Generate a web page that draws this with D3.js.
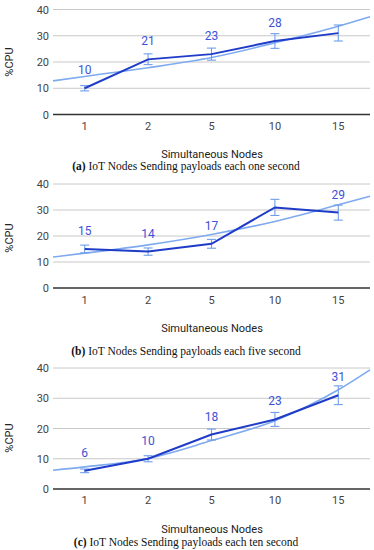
<!DOCTYPE html>
<html>
<head>
<meta charset="utf-8">
<script src="https://cdn.jsdelivr.net/npm/d3@7"></script>
<style>
  body { margin: 0; background: #fff; }
  svg { display: block; }
</style>
</head>
<body>
<div class="chart"></div>
<script>
var width = 374;
var height = 550;

// data
var nodes = ['1', '2', '5', '10', '15'];
var yTicks = [0, 10, 20, 30, 40];

var cpuA = [10, 21, 23, 28, 31];
var lowA = [9, 19, 20.7, 25.2, 28];
var highA = [11, 23.1, 25.3, 30.8, 34.1];
var trendA = [12.8, 14.5, 17.8, 21.7, 27.3, 33.6, 37.2];   // left edge, 5 categories, right edge
var labelsA = ['10', '21', '23', '28', ''];

var cpuB = [15, 14, 17, 31, 29];
var lowB = [13.5, 12.6, 15.3, 27.9, 26.1];
var highB = [16.5, 15.4, 18.7, 34.1, 31.9];
var trendB = [11.9, 13.4, 16.6, 20.6, 25.6, 32, 35.3];
var labelsB = ['15', '14', '17', '', '29'];

var cpuC = [6, 10, 18, 23, 31];
var lowC = [5.4, 9, 16.2, 20.7, 27.9];
var highC = [6.6, 11, 19.8, 25.3, 34.1];
var trendC = [6.2, 7.3, 10.1, 16, 22.6, 32.8, 39.4];
var labelsC = ['6', '10', '18', '23', '31'];

var captions = [
  ['(a)', ' IoT Nodes Sending payloads each one second'],
  ['(b)', ' IoT Nodes Sending payloads each five second'],
  ['(c)', ' IoT Nodes Sending payloads each ten second']
];

// layout of each panel (pixel positions)
var panels = [
  {cpu: cpuA, low: lowA, high: highA, trend: trendA, labels: labelsA, cap: captions[0],
   top: 9.5, bottom: 114.5, tickY: 130, titleY: 158, capY: 170, yTitle: 62},
  {cpu: cpuB, low: lowB, high: highB, trend: trendB, labels: labelsB, cap: captions[1],
   top: 184, bottom: 288, tickY: 304, titleY: 332, capY: 355, yTitle: 238},
  {cpu: cpuC, low: lowC, high: highC, trend: trendC, labels: labelsC, cap: captions[2],
   top: 368, bottom: 489, tickY: 504, titleY: 533, capY: 546, yTitle: 438}
];

var left = 53, right = 370;

var svg = d3.select('div.chart').append('svg')
  .attr('width', width)
  .attr('height', height);

var x_scale = d3.scaleBand()
  .domain(nodes)
  .range([left, right]);

panels.forEach(function(p) {
  var g = svg.append('g');
  var y_scale = d3.scaleLinear()
    .domain([0, 40])
    .range([p.bottom, p.top]);

  // grid
  g.append('g')
    .selectAll('line')
    .data(yTicks)
    .enter()
    .append('line')
    .attr('x1', left)
    .attr('x2', right)
    .attr('y1', function(d) { return y_scale(d); })
    .attr('y2', function(d) { return y_scale(d); })
    .attr('stroke', function(d) { return d == 0 ? '#333' : '#c8c8c8'; })
    .attr('stroke-width', function(d) { return d == 0 ? 1.5 : 1; });

  // y axis labels
  var y_axis = d3.axisLeft(y_scale).tickValues(yTicks).tickSize(0).tickPadding(4);
  var ya = g.append('g')
    .attr('transform', 'translate(' + left + ',0)')
    .call(y_axis);
  ya.select('.domain').remove();
  ya.selectAll('text')
    .style('font-family', 'Roboto')
    .style('font-size', '11px')
    .attr('fill', '#444');

  // x axis labels
  g.append('g')
    .selectAll('text')
    .data(nodes)
    .enter()
    .append('text')
    .attr('x', function(d) { return x_scale(d) + x_scale.bandwidth() / 2; })
    .attr('y', p.tickY)
    .attr('text-anchor', 'middle')
    .style('font-family', 'Roboto')
    .style('font-size', '11px')
    .attr('fill', '#444')
    .text(function(d) { return d; });

  // axis titles
  g.append('text')
    .attr('transform', 'translate(13,' + p.yTitle + ') rotate(-90)')
    .attr('text-anchor', 'middle')
    .style('font-family', 'Roboto')
    .style('font-size', '11px')
    .attr('fill', '#222')
    .text('%CPU');
  g.append('text')
    .attr('x', 212)
    .attr('y', p.titleY)
    .attr('text-anchor', 'middle')
    .style('font-family', 'Roboto')
    .style('font-size', '11px')
    .attr('fill', '#222')
    .text('Simultaneous Nodes');

  // trend line (edges + category centres)
  var trendX = [left].concat(nodes.map(function(d) { return x_scale(d) + x_scale.bandwidth() / 2; })).concat([right]);
  var trendLine = d3.line()
    .x(function(d, i) { return trendX[i]; })
    .y(function(d) { return y_scale(d); })
    .curve(d3.curveMonotoneX);
  g.append('path')
    .datum(p.trend)
    .attr('d', trendLine)
    .attr('fill', 'none')
    .attr('stroke', '#7eaaf0')
    .attr('stroke-width', 1.6);

  // error bars
  var eb = g.append('g').selectAll('g')
    .data(nodes)
    .enter()
    .append('g')
    .attr('stroke', '#6f9de9')
    .attr('stroke-width', 1.1);
  eb.append('line')
    .attr('x1', function(d) { return x_scale(d) + x_scale.bandwidth() / 2; })
    .attr('x2', function(d) { return x_scale(d) + x_scale.bandwidth() / 2; })
    .attr('y1', function(d, i) { return y_scale(p.low[i]); })
    .attr('y2', function(d, i) { return y_scale(p.high[i]); });
  [p.low, p.high].forEach(function(arr) {
    eb.append('line')
      .attr('x1', function(d) { return x_scale(d) + x_scale.bandwidth() / 2 - 4.5; })
      .attr('x2', function(d) { return x_scale(d) + x_scale.bandwidth() / 2 + 4.5; })
      .attr('y1', function(d, i) { return y_scale(arr[i]); })
      .attr('y2', function(d, i) { return y_scale(arr[i]); });
  });

  // main line
  var line = d3.line()
    .x(function(d, i) { return x_scale(nodes[i]) + x_scale.bandwidth() / 2; })
    .y(function(d) { return y_scale(d); });
  g.append('path')
    .datum(p.cpu)
    .attr('d', line)
    .attr('fill', 'none')
    .attr('stroke', '#1f3cc8')
    .attr('stroke-width', 2);

  // value labels
  g.append('g')
    .selectAll('text')
    .data(p.labels)
    .enter()
    .append('text')
    .attr('x', function(d, i) { return x_scale(nodes[i]) + x_scale.bandwidth() / 2; })
    .attr('y', function(d, i) { return y_scale(p.cpu[i]) - 14; })
    .attr('text-anchor', 'middle')
    .style('font-family', 'Roboto')
    .style('font-size', '12px')
    .attr('fill', '#3d52d5')
    .text(function(d) { return d; });

  // caption
  var cap = g.append('text')
    .attr('x', 186)
    .attr('y', p.capY)
    .attr('text-anchor', 'middle')
    .style('font-family', 'Liberation Serif')
    .style('font-size', '11.5px')
    .attr('fill', '#111');
  cap.append('tspan').style('font-weight', 'bold').text(p.cap[0]);
  cap.append('tspan').text(p.cap[1]);
});
</script>
</body>
</html>
